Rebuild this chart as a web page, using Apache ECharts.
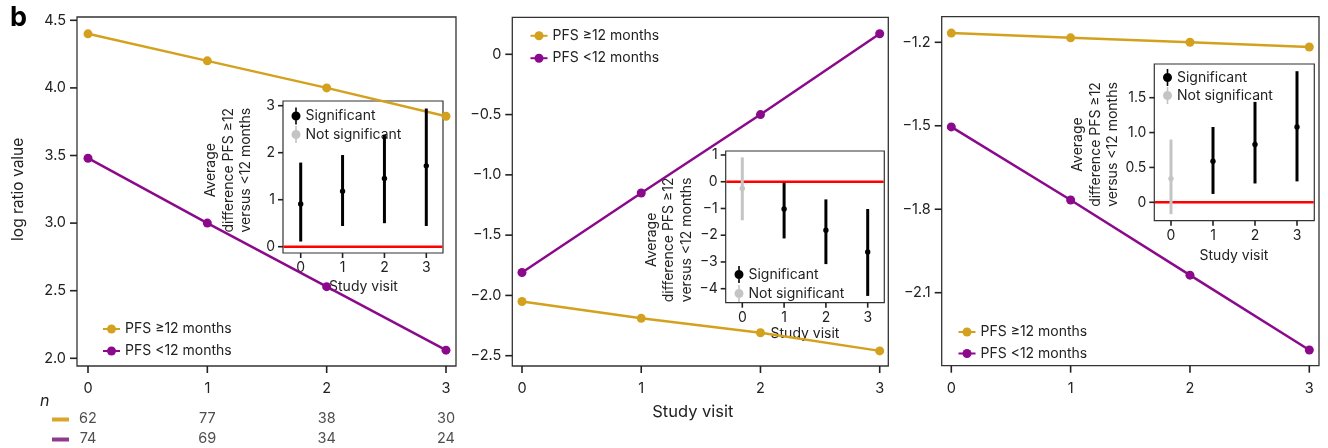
<!DOCTYPE html>
<html><head><meta charset="utf-8">
<script src="https://cdn.jsdelivr.net/npm/echarts@6/dist/echarts.min.js"></script>
<style>html,body{margin:0;padding:0;background:#fff}#c{width:1328px;height:448px}</style>
</head><body><div id="c"></div>
<script>
// ---- data ----
const visits = [0, 1, 2, 3];
const seriesNames = ['PFS \u226512 months', 'PFS <12 months'];
// main panels (log ratio values)
const p1Ge12 = [4.40, 4.20, 4.00, 3.79];
const p1Lt12 = [3.48, 3.00, 2.53, 2.06];
const p2Ge12 = [-2.05, -2.19, -2.31, -2.46];
const p2Lt12 = [-1.81, -1.15, -0.50, 0.17];
const p3Ge12 = [-1.167, -1.184, -1.200, -1.217];
const p3Lt12 = [-1.504, -1.767, -2.037, -2.306];
// tick values
const visitTicks = [0, 1, 2, 3];
const p1Ticks = [2.0, 2.5, 3.0, 3.5, 4.0, 4.5];
const p2Ticks = [-2.5, -2.0, -1.5, -1.0, -0.5, 0];
const p3Ticks = [-2.1, -1.8, -1.5, -1.2];
// insets: average difference PFS >=12 vs <12 months
const in1Mean = [0.91, 1.18, 1.45, 1.72];
const in1Lo = [0.11, 0.44, 0.50, 0.44];
const in1Hi = [1.79, 1.95, 2.38, 2.94];
const in1Sig = [true, true, true, true];
const in2Mean = [-0.25, -1.02, -1.81, -2.63];
const in2Lo = [-1.44, -2.12, -3.08, -4.27];
const in2Hi = [0.91, -0.04, -0.66, -1.02];
const in2Sig = [false, true, true, true];
const in3Mean = [0.34, 0.59, 0.83, 1.08];
const in3Lo = [-0.17, 0.12, 0.27, 0.30];
const in3Hi = [0.90, 1.08, 1.44, 1.88];
const in3Sig = [false, true, true, true];
const in1Ticks = [0, 1, 2, 3];
const in2Ticks = [-4, -3, -2, -1, 0, 1];
const in3Ticks = [0, 0.5, 1.0, 1.5];
// numbers at risk
const nGe12 = [62, 77, 38, 30];
const nLt12 = [74, 69, 34, 24];
const nRows = ['ge12', 'lt12'];

// ---- styling / layout ----
const GOLD = '#D4A11E', PURPLE = '#8B0A8B', GREY = '#C4C4C4', BLACK = '#000';
const FONT = 'Inter';
const TXT = '#222';
const FRAME = '#333';
const TICK = '#222';
const minus = v => String(v).replace('-', '\u2212');

// frame boxes [x, y, w, h]
const boxes = [
  [77, 17, 379, 349],
  [512.3, 17.3, 376, 348.7],
  [941.7, 16.7, 377.3, 349],
  [283, 101, 160, 152],
  [725.7, 151, 158.6, 151.7],
  [1154.3, 64, 160, 156.7]
];
// plotting grids spanning the first..last tick of each axis
const grids = [
  { left: 88, top: 20.3, width: 358, height: 338 },
  { left: 522, top: 54.3, width: 357.7, height: 301.4 },
  { left: 951.3, top: 42.3, width: 358, height: 250.4 },
  { left: 300.7, top: 105.7, width: 125.6, height: 141 },
  { left: 742.3, top: 155, width: 125.4, height: 133.7 },
  { left: 1171, top: 97.7, width: 126, height: 104.6 },
  { left: 88, top: 409, width: 358, height: 42 }
].map(g => Object.assign({ show: false, containLabel: false }, g));

function offX(i) { const b = boxes[i], g = grids[i]; return (b[1] + b[3]) - (g.top + g.height); }
function offY(i) { const b = boxes[i], g = grids[i]; return g.left - b[0]; }
const step = t => Math.round((t[1] - t[0]) * 1000) / 1000;

function xAxisFor(i, ticks, margin, fs, extra) {
  return Object.assign({
    type: 'value', gridIndex: i, min: ticks[0], max: ticks[ticks.length - 1], interval: step(ticks), offset: offX(i),
    axisLine: { show: false, onZero: false }, splitLine: { show: false }, axisTick: { show: false },
    axisLabel: { show: true, margin: margin, fontFamily: FONT, fontSize: fs, color: TXT, formatter: v => String(Math.round(v)) }
  }, extra || {});
}
function yAxisFor(i, ticks, margin, fs, fmt, extra) {
  return Object.assign({
    type: 'value', gridIndex: i, min: ticks[0], max: ticks[ticks.length - 1], interval: step(ticks), offset: offY(i),
    axisLine: { show: false, onZero: false }, splitLine: { show: false }, axisTick: { show: false },
    axisLabel: { show: true, margin: margin, fontFamily: FONT, fontSize: fs, color: TXT, formatter: fmt }
  }, extra || {});
}
const insetXName = gap => ({ name: 'Study visit', nameLocation: 'middle', nameGap: gap, nameTextStyle: { fontFamily: FONT, fontSize: 14, color: TXT } });
const insetYName = pad => ({ name: 'Average\ndifference PFS \u226512\nversus <12 months', nameLocation: 'middle', nameRotate: 90, nameGap: 28,
  nameTextStyle: { fontFamily: FONT, fontSize: 14, color: TXT, lineHeight: 17.5, padding: pad } });

const fmtDec = v => { const r = Math.round(v * 10) / 10; return r === 0 ? '0' : minus(r.toFixed(1)); };
const fmtInt = v => minus(Math.round(v));

const xAxes = [
  xAxisFor(0, visitTicks, 15, 14.5),
  xAxisFor(1, visitTicks, 15, 14.5, { name: 'Study visit', nameLocation: 'middle', nameGap: 38, nameTextStyle: { fontFamily: FONT, fontSize: 16.5, color: TXT, padding: [0, 16, 0, 0] } }),
  xAxisFor(2, visitTicks, 15, 14.5),
  xAxisFor(3, visitTicks, 8, 14, insetXName(27)),
  xAxisFor(4, visitTicks, 8, 14, insetXName(24)),
  xAxisFor(5, visitTicks, 8, 14, insetXName(28)),
  { type: 'value', gridIndex: 6, min: visitTicks[0], max: visitTicks[visitTicks.length - 1], show: false }
];
const yAxes = [
  yAxisFor(0, p1Ticks, 11, 14.5, v => (Math.round(v * 10) / 10).toFixed(1),
    { name: 'log ratio value', nameLocation: 'middle', nameGap: 51, nameTextStyle: { fontFamily: FONT, fontSize: 15.5, color: TXT } }),
  yAxisFor(1, p2Ticks, 11, 14.5, fmtDec),
  yAxisFor(2, p3Ticks, 11, 14.5, fmtDec),
  yAxisFor(3, in1Ticks, 8, 14, fmtInt, insetYName([0, 0, 0, 12])),
  yAxisFor(4, in2Ticks, 8, 14, fmtInt, insetYName([0, 36, 0, 0])),
  yAxisFor(5, in3Ticks, 8, 14, fmtDec, insetYName([0, 0, 0, 11])),
  { type: 'category', gridIndex: 6, data: nRows, inverse: true, show: false }
];

function pairs(ys) { return visits.map((x, i) => [x, ys[i]]); }
function errData(mean, lo, hi, sig, want) {
  const out = [];
  visits.forEach((x, i) => { if (sig[i] === want) out.push([x, mean[i], lo[i], hi[i]]); });
  return out;
}
function renderErr(params, api) {
  const x = api.value(0);
  const pM = api.coord([x, api.value(1)]);
  const pLo = api.coord([x, api.value(2)]);
  const pHi = api.coord([x, api.value(3)]);
  const color = api.visual('color');
  return { type: 'group', children: [
    { type: 'line', shape: { x1: pLo[0], y1: pLo[1], x2: pHi[0], y2: pHi[1] }, style: { stroke: color, lineWidth: 3 } },
    { type: 'circle', shape: { cx: pM[0], cy: pM[1], r: 2.7 }, style: { fill: color } }
  ]};
}
// axis tick marks drawn outside each frame, positioned by the axis scales
function tickSeries(i, xTicks, yTicks, len) {
  const b = boxes[i];
  const data = xTicks.map(v => [v, yTicks[0], 0]).concat(yTicks.map(v => [xTicks[0], v, 1]));
  return {
    type: 'custom', xAxisIndex: i, yAxisIndex: i, data: data, silent: true, clip: false, z: 5,
    encode: { x: 0, y: 1 },
    renderItem: (params, api) => {
      const p = api.coord([api.value(0), api.value(1)]);
      const isY = api.value(2) === 1;
      const shape = isY
        ? { x1: b[0] - len, y1: p[1], x2: b[0], y2: p[1] }
        : { x1: p[0], y1: b[1] + b[3], x2: p[0], y2: b[1] + b[3] + len };
      return { type: 'line', shape: shape, style: { stroke: TICK, lineWidth: 1.6 } };
    }
  };
}
function zeroLine(i) {
  return {
    type: 'custom', xAxisIndex: i, yAxisIndex: i, data: [[0, 0]], silent: true, z: 3, clip: false,
    renderItem: (params, api) => {
      const y = api.coord([api.value(0), api.value(1)])[1];
      const b = boxes[i];
      return { type: 'line', shape: { x1: b[0] + 0.6, y1: y, x2: b[0] + b[2] - 0.6, y2: y }, style: { stroke: '#FF0000', lineWidth: 2.6 } };
    }
  };
}
function lineSeries(name, color, data, idx) {
  return {
    type: 'line', name: name, xAxisIndex: idx, yAxisIndex: idx, data: pairs(data), clip: false,
    symbol: 'circle', symbolSize: 9, showSymbol: true,
    lineStyle: { color: color, width: 2.5 }, itemStyle: { color: color }, z: 2, silent: true
  };
}
function errSeries(name, color, data, idx) {
  return {
    type: 'custom', name: name, xAxisIndex: idx, yAxisIndex: idx, data: data, clip: false,
    renderItem: renderErr, itemStyle: { color: color }, z: 4, silent: true,
    encode: { x: 0, y: [1, 2, 3] }
  };
}
function nSeries(vals, row) {
  return {
    type: 'scatter', xAxisIndex: 6, yAxisIndex: 6, symbolSize: 1, itemStyle: { color: 'rgba(0,0,0,0)' }, silent: true,
    data: visits.map((x, i) => [x, row, vals[i]]),
    label: { show: true, position: 'inside', formatter: p => String(p.value[2]), fontFamily: FONT, fontSize: 14.5, color: TXT }
  };
}

const series = [
  lineSeries(seriesNames[0], GOLD, p1Ge12, 0), lineSeries(seriesNames[1], PURPLE, p1Lt12, 0),
  lineSeries(seriesNames[0], GOLD, p2Ge12, 1), lineSeries(seriesNames[1], PURPLE, p2Lt12, 1),
  lineSeries(seriesNames[0], GOLD, p3Ge12, 2), lineSeries(seriesNames[1], PURPLE, p3Lt12, 2),
  zeroLine(3), zeroLine(4), zeroLine(5),
  errSeries('Not significant', GREY, errData(in1Mean, in1Lo, in1Hi, in1Sig, false), 3),
  errSeries('Significant', BLACK, errData(in1Mean, in1Lo, in1Hi, in1Sig, true), 3),
  errSeries('Not significant', GREY, errData(in2Mean, in2Lo, in2Hi, in2Sig, false), 4),
  errSeries('Significant', BLACK, errData(in2Mean, in2Lo, in2Hi, in2Sig, true), 4),
  errSeries('Not significant', GREY, errData(in3Mean, in3Lo, in3Hi, in3Sig, false), 5),
  errSeries('Significant', BLACK, errData(in3Mean, in3Lo, in3Hi, in3Sig, true), 5),
  tickSeries(0, visitTicks, p1Ticks, 7), tickSeries(1, visitTicks, p2Ticks, 7), tickSeries(2, visitTicks, p3Ticks, 7),
  tickSeries(3, visitTicks, in1Ticks, 5), tickSeries(4, visitTicks, in2Ticks, 5), tickSeries(5, visitTicks, in3Ticks, 5),
  nSeries(nGe12, nRows[0]), nSeries(nLt12, nRows[1])
];

const SIG_ICON = 'path://M3.7,0H5.3V17H3.7Z M0,8.5A4.5,4.5,0,0,1,9,8.5A4.5,4.5,0,0,1,0,8.5Z';
function mainLegend(left, top, gap) {
  return { left: left, top: top, orient: 'vertical', itemWidth: 17, itemHeight: 11.25, itemGap: gap,
    data: seriesNames, selectedMode: false,
    textStyle: { fontFamily: FONT, fontSize: 14, color: TXT, lineHeight: 16 } };
}
function insetLegend(left, top, gap) {
  return { left: left, top: top, orient: 'vertical', itemWidth: 9, itemHeight: 17, itemGap: gap,
    data: [{ name: 'Significant', icon: SIG_ICON }, { name: 'Not significant', icon: SIG_ICON }], selectedMode: false,
    textStyle: { fontFamily: FONT, fontSize: 14, color: TXT, lineHeight: 16 } };
}

const frameGraphics = boxes.map((b, i) => ({
  type: 'rect', silent: true, z: 1,
  shape: { x: b[0], y: b[1], width: b[2], height: b[3] },
  style: { fill: 'none', stroke: FRAME, lineWidth: i < 3 ? 1.3 : 1.2 }
}));

const option = {
  animation: false,
  backgroundColor: '#fff',
  textStyle: { fontFamily: FONT },
  grid: grids,
  xAxis: xAxes,
  yAxis: yAxes,
  legend: [
    mainLegend(97, 316, 6), mainLegend(524.5, 22.8, 6.4), mainLegend(952.5, 319, 5.5),
    insetLegend(286.5, 102.5, 1.5), insetLegend(729.5, 261, 2), insetLegend(1158, 64, 1)
  ],
  graphic: frameGraphics.concat([
    { type: 'text', left: 10, top: 4, style: { text: 'b', font: 'bold 27px ' + FONT, fill: '#000' } },
    { type: 'text', x: 40, y: 401, style: { text: 'n', font: 'italic 16px ' + FONT, fill: TXT, verticalAlign: 'middle' } },
    { type: 'line', shape: { x1: 52, y1: 419.5, x2: 69, y2: 419.5 }, style: { stroke: '#D9A52B', lineWidth: 4 } },
    { type: 'line', shape: { x1: 52, y1: 439.5, x2: 69, y2: 439.5 }, style: { stroke: '#8E3A8E', lineWidth: 4 } }
  ]),
  series: series
};

const chart = echarts.init(document.getElementById('c'), null, { renderer: 'canvas' });
chart.setOption(option);
</script>
</body></html>
